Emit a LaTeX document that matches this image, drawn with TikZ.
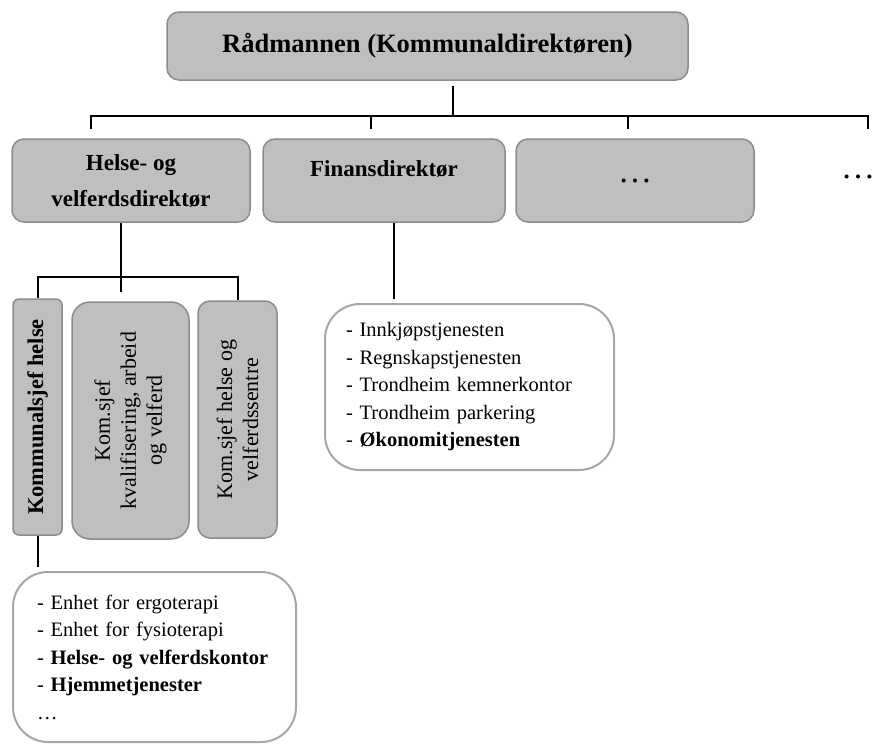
\documentclass[tikz,border=0pt]{standalone}
\usepackage{fontspec}
\setmainfont{Liberation Serif}
\usetikzlibrary{positioning}
\definecolor{boxgrey}{HTML}{BFBFBF}
\definecolor{edgegrey}{HTML}{8C8C8C}
\definecolor{listedge}{HTML}{A6A6A6}
\tikzset{
  chief/.style    = {draw=edgegrey, fill=boxgrey, rounded corners=12pt, line width=1.5pt,
                     align=center, inner sep=0pt, font=\fontsize{26.5}{30}\selectfont\bfseries},
  director/.style = {draw=edgegrey, fill=boxgrey, rounded corners=12pt, line width=1.5pt,
                     align=center, inner sep=0pt, minimum height=83pt,
                     font=\fontsize{23}{36}\selectfont\bfseries},
  unit/.style     = {draw=edgegrey, fill=boxgrey, line width=1.5pt, rotate=90,
                     align=center, inner sep=0pt, font=\fontsize{22}{26}\selectfont},
  listbox/.style  = {draw=listedge, fill=white, rounded corners=35pt, line width=2pt,
                     align=left, inner xsep=21pt, inner ysep=0pt,
                     font=\fontsize{20.5}{27.5}\selectfont},
  dots/.style     = {font=\fontsize{34}{36}\selectfont, inner sep=0pt},
  conn/.style     = {line width=2pt},
}
\begin{document}
\begin{tikzpicture}[x=1pt, y=-1pt]
  \useasboundingbox (0,0) rectangle (877,745);

  % top level
  \node[chief, minimum width=521pt, minimum height=68pt] (top) at (427.5,46) {Rådmannen (Kommunaldirektøren)};

  % directors
  \node[director, minimum width=238pt] (helse) at (131,180.5) {Helse- og\\velferdsdirektør};
  \node[director, minimum width=242pt, text height=17pt, text depth=26pt] (finans) at (384,180.5) {Finansdirektør};
  \node[director, minimum width=238pt] (other) at (635,180.5) {};
  \node[dots] (otherdots) at (other) {…};
  \node[dots] (more) at (858,177) {…};

  \coordinate (tdrop) at (453,86);
  \coordinate (bus) at (453,116);
  \coordinate (d1) at (91,129);
  \coordinate (d2) at (371,129);
  \coordinate (d3) at (628,129);
  \coordinate (d4) at (868,129);
  \draw[conn] (tdrop) -- (bus);
  \foreach \d in {d1,d2,d3,d4}
    \draw[conn] (bus) -| (\d);

  % units under helse
  \node[unit, minimum width=236pt, minimum height=49pt, rounded corners=6pt,
        font=\fontsize{22.5}{26}\selectfont\bfseries] (ksh) at (37.5,417) {Kommunalsjef helse};
  \node[unit, minimum width=237pt, minimum height=117pt, rounded corners=18pt] (kkv) at (130.5,420.5) {Kom.sjef\\kvalifisering, arbeid\\og velferd};
  \node[unit, minimum width=237pt, minimum height=79pt, rounded corners=12pt] (kvs) at (237.5,419.5) {Kom.sjef helse og\\velferdssentre};

  \coordinate (hbus) at (121,277);
  \coordinate (hmid) at (121,292);
  \draw[conn] (helse.south -| hbus) -- (hmid);
  \draw[conn] (hbus) -| (ksh.east);
  \draw[conn] (hbus) -| (kvs.east);

  % lists
  \node[listbox, text width=247pt, minimum height=166pt] (finlist) at (469.5,387)
    {- Innkjøpstjenesten\\- Regnskapstjenesten\\- Trondheim kemnerkontor\\- Trondheim parkering\\- \textbf{Økonomitjenesten}};
  \node[listbox, text width=235pt, inner xsep=24pt, minimum height=170pt] (helselist) at (154.5,657)
    {- Enhet for ergoterapi\\- Enhet for fysioterapi\\- \textbf{Helse- og velferdskontor}\\- \textbf{Hjemmetjenester}\\…};

  \coordinate (fdrop) at (394,299);
  \coordinate (kdrop) at (37.5,567);
  \draw[conn] (finans.south -| fdrop) -- (fdrop);
  \draw[conn] (ksh.west) -- (kdrop);
\end{tikzpicture}
\end{document}
